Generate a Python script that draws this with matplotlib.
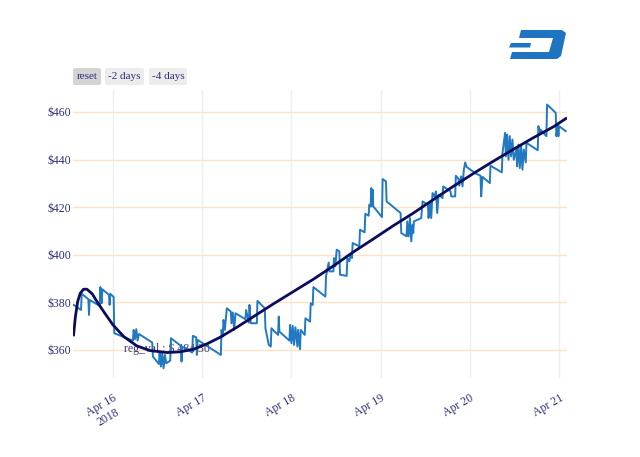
import numpy as np
import pandas as pd
import matplotlib
matplotlib.use("Agg")
import matplotlib.pyplot as plt
from matplotlib.patches import Polygon, FancyBboxPatch

# price trace: hours after 2018-04-16 00:00, price in $
hours = [-10.56, -8.59, -8.42, -6.62, -6.45, -6.27, -3.58, -3.40, -3.04, -2.86,
         -1.07, -0.90, -0.72, 0.18, 0.36, 5.37, 5.55, 5.91, 6.27, 6.62,
         6.98, 10.56, 10.74, 12.35, 12.53, 12.89, 13.25, 13.61, 13.97, 14.32,
         15.40, 15.58, 18.26, 18.44, 18.62, 21.31, 21.49, 22.38, 22.56, 22.74,
         29.01, 29.19, 29.54, 29.72, 30.08, 30.62, 31.69, 31.87, 32.23, 32.59,
         32.95, 35.63, 35.81, 36.53, 36.71, 37.06, 38.68, 38.85, 40.82, 41.00,
         41.90, 42.44, 42.61, 44.40, 44.58, 44.76, 47.45, 47.63, 47.99, 48.34,
         48.70, 49.06, 49.60, 49.78, 50.31, 50.49, 51.57, 51.75, 53.00, 53.18,
         53.72, 53.89, 57.12, 57.30, 58.01, 58.19, 59.27, 59.44, 59.80, 60.16,
         60.88, 61.06, 62.85, 63.03, 63.56, 63.92, 64.28, 64.46, 66.25, 66.43,
         67.68, 67.86, 68.76, 68.93, 69.29, 69.47, 69.65, 69.83, 70.01, 72.34,
         72.52, 73.41, 73.59, 77.35, 77.53, 78.96, 79.14, 79.50, 79.86, 80.21,
         80.57, 80.75, 80.93, 82.90, 83.26, 84.69, 84.87, 85.23, 85.59, 85.94,
         86.48, 86.84, 87.20, 87.56, 88.63, 88.81, 90.78, 90.96, 92.03, 92.21,
         92.93, 93.11, 93.64, 94.00, 94.36, 94.72, 95.08, 97.58, 98.84, 99.02,
         99.37, 101.34, 101.52, 104.57, 104.75, 105.46, 105.64, 106.00, 106.36, 106.71,
         107.07, 107.43, 107.79, 108.50, 108.68, 109.04, 109.40, 109.76, 110.12, 110.47,
         111.01, 111.19, 114.23, 114.41, 114.77, 114.95, 116.56, 116.74, 119.07, 119.25,
         119.61, 119.79, 119.96, 121.76]
price = [378.9, 376.8, 383.6, 381.3, 374.7, 381.0, 378.5, 386.4, 379.6, 385.5,
         383.1, 378.9, 383.6, 382.2, 367.0, 363.9, 368.4, 364.5, 368.7, 363.9,
         366.7, 363.1, 357.2, 354.1, 359.3, 353.0, 358.6, 352.3, 357.9, 354.4,
         355.5, 364.9, 361.7, 355.1, 361.4, 358.9, 365.9, 365.3, 357.9, 364.2,
         357.9, 368.4, 365.6, 372.6, 368.4, 377.5, 376.1, 371.2, 375.7, 368.4,
         375.4, 372.9, 376.8, 371.5, 378.9, 371.2, 371.2, 380.6, 377.5, 369.1,
         362.1, 361.4, 369.1, 366.3, 374.0, 367.7, 363.9, 370.5, 362.8, 370.1,
         362.1, 369.5, 361.4, 368.4, 360.3, 368.4, 366.3, 373.3, 371.9, 379.6,
         378.9, 386.4, 382.4, 390.9, 396.7, 393.0, 393.0, 398.6, 395.1, 402.1,
         401.4, 391.6, 391.1, 398.6, 397.2, 400.0, 398.6, 404.9, 403.5, 410.5,
         409.4, 417.2, 416.4, 421.0, 420.3, 428.0, 420.3, 427.3, 420.3, 415.8,
         431.8, 430.8, 422.4, 417.5, 409.1, 407.7, 414.0, 407.7, 415.4, 405.6,
         412.6, 409.1, 414.0, 415.4, 422.4, 421.0, 415.4, 421.7, 415.4, 425.9,
         424.5, 426.6, 417.5, 425.2, 423.8, 428.7, 426.6, 424.5, 424.5, 433.2,
         431.8, 429.0, 432.9, 428.7, 435.7, 438.8, 436.9, 434.1, 433.2, 424.5,
         432.7, 430.1, 437.4, 434.6, 442.7, 451.2, 441.3, 450.5, 439.9, 449.8,
         441.3, 448.4, 439.9, 444.2, 437.1, 446.3, 436.4, 445.6, 435.7, 444.2,
         438.8, 447.0, 443.9, 454.0, 451.2, 452.6, 449.8, 463.1, 459.6, 449.8,
         454.2, 449.8, 454.0, 451.9]

# regression curve
reg_hours = [-10.6, -10.1, -9.5, -8.8, -7.9, -7.0, -5.6, -4.3, -2.5, 0.0,
             2.9, 6.4, 10.0, 14.5, 18.1, 21.7, 25.2, 28.8, 33.3, 37.8,
             43.2, 48.5, 53.9, 59.3, 64.6, 70.0, 75.4, 80.8, 86.1, 91.5,
             96.9, 102.2, 107.6, 113.0, 118.4, 121.8]
reg_price = [366.3, 374.0, 380.3, 383.8, 385.5, 385.5, 383.6, 380.3, 376.1, 370.5,
             365.6, 361.7, 359.7, 358.9, 359.2, 360.3, 362.5, 365.3, 369.5, 374.0,
             379.4, 384.5, 389.7, 395.3, 401.1, 406.6, 412.2, 417.5, 423.1, 428.7,
             434.1, 439.2, 444.2, 449.1, 453.7, 457.2]

y_ticks = [360, 380, 400, 420, 440, 460]
x_tick_days = ["2018-04-16", "2018-04-17", "2018-04-18", "2018-04-19", "2018-04-20", "2018-04-21"]
x_tick_labels = ["Apr 16\n2018", "Apr 17", "Apr 18", "Apr 19", "Apr 20", "Apr 21"]
buttons = ["reset", "-2 days", "-4 days"]
annotation = "reg_val : $ 484.30"

t0 = pd.Timestamp("2018-04-16")
t = t0 + pd.to_timedelta(hours, unit="h")
rt = t0 + pd.to_timedelta(reg_hours, unit="h")

text_col = "#2e2e7a"
plt.rcParams["font.family"] = ["Liberation Serif", "DejaVu Serif"]

W, H = 640, 457
fig = plt.figure(figsize=(6.4, 4.57), dpi=100)
ax = fig.add_axes([73 / W, 1 - 378 / H, 494 / W, 288 / H])

ax.text(t0 + pd.Timedelta(hours=3.0), 360.3, annotation, fontsize=8.5,
        color="#3a3a78", va="center", ha="left", zorder=1)
ax.plot(t, price, color="#2179c1", lw=1.4, zorder=2)
ax.plot(rt, reg_price, color="#0c0c5c", lw=2.0, zorder=3)

ax.set_ylim(348.2, 469.2)
ax.set_xlim(t0 - pd.Timedelta(hours=10.75), t0 + pd.Timedelta(hours=122.1))
ax.set_yticks(y_ticks)
ax.set_yticklabels([f"${v}" for v in y_ticks])
ax.set_xticks(pd.to_datetime(x_tick_days))
ax.set_xticklabels(x_tick_labels, rotation=30, ha="right", va="top",
                   rotation_mode="anchor", multialignment="center")

for s in ax.spines.values():
    s.set_visible(False)
ax.tick_params(axis="both", length=0, labelsize=8.5, labelcolor=text_col)
ax.tick_params(axis="y", pad=1)
ax.tick_params(axis="x", pad=10)
ax.yaxis.grid(True, color="#fde3c6", lw=1.0)
ax.xaxis.grid(True, color="#efefef", lw=1.0)
ax.set_axisbelow(True)

# range buttons (pixel boxes)
btn_box = [(73, 101), (105, 144), (149, 187)]
for label, (x0, x1) in zip(buttons, btn_box):
    fc = "#d4d4d4" if label == "reset" else "#ececec"
    fig.patches.append(FancyBboxPatch((x0 / W, 1 - 85 / H), (x1 - x0) / W, 17 / H,
                                      boxstyle="round,pad=0,rounding_size=0.004",
                                      fc=fc, ec="none", transform=fig.transFigure, figure=fig))
    fig.text((x0 + x1) / 2 / W, 1 - 76.5 / H, label, fontsize=8, color=text_col,
             ha="center", va="center")

# dash logo
def px(pts):
    return [(x / W, 1 - y / H) for x, y in pts]

logo_col = "#1f74c2"
d_shape = [(521, 30), (562, 30), (566, 33), (561, 56), (557, 59), (510, 59),
           (512, 52), (549, 52), (553, 38), (519, 38)]
dash_bar = [(511, 43), (531, 43), (530, 47.5), (509, 47.5)]
for shape in (d_shape, dash_bar):
    fig.patches.append(Polygon(px(shape), closed=True, fc=logo_col, ec="none",
                               transform=fig.transFigure, figure=fig))

fig.savefig("out.png", dpi=100)
